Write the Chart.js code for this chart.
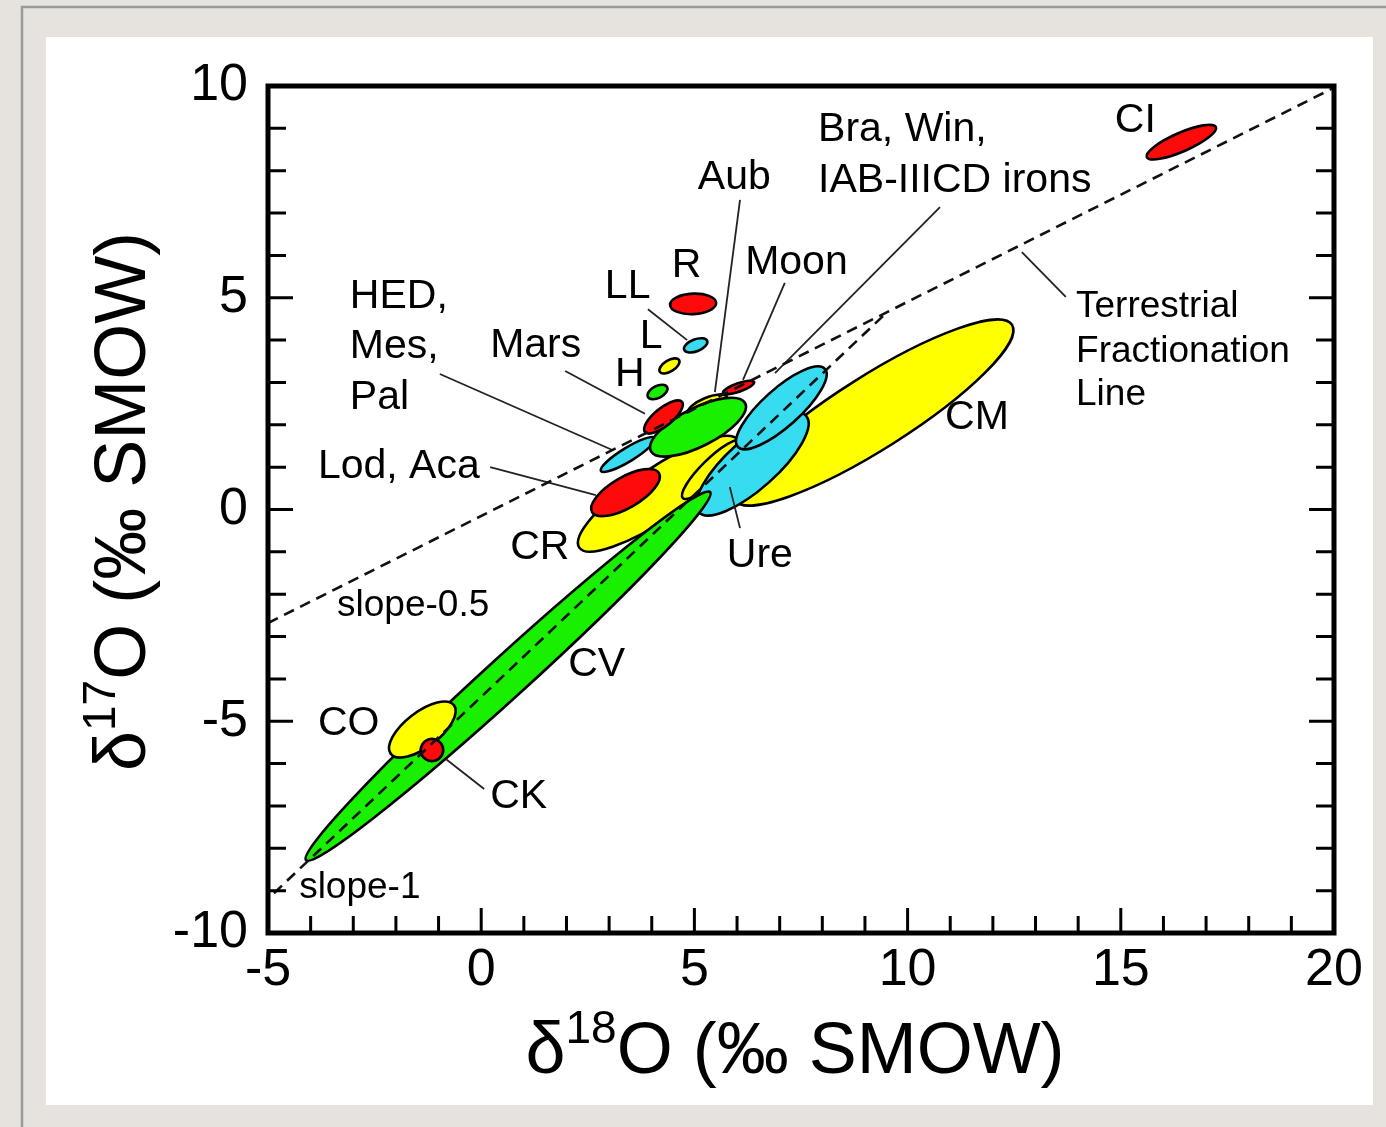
<!DOCTYPE html>
<html>
<head>
<meta charset="utf-8">
<title>Oxygen isotope groups</title>
<script src="https://cdn.jsdelivr.net/npm/chart.js@4.4.1/dist/chart.umd.min.js"></script>
<style>
  html, body { margin: 0; padding: 0; background: #e6e3de; }
  canvas { display: block; }
</style>
</head>
<body>
<canvas id="oxygenChart" width="1386" height="1127"></canvas>
<script>
const FONT = "'Liberation Sans', Arial, Helvetica, sans-serif";

// axis ticks
const xTicks = [-5, 0, 5, 10, 15, 20];
const yTicks = [-10, -5, 0, 5, 10];
const minorStep = 1;

// reference lines (d18O, d17O)
const tflLine = [{ x: -5, y: -2.68 }, { x: 19.98, y: 9.95 }];
const ccamLine = [{ x: -4.86, y: -9.06 }, { x: 9.52, y: 4.66 }];

// meteorite group fields: [d18O start, d17O start, d18O end, d17O end, half width]
// listed back to front
const regionNames = ['CM', 'CR', 'CR', 'Ure', 'Ure', 'CV', 'Lod, Aca', 'HED', 'Aub', 'Bra, Win',
  'Mars', 'Moon', 'H', 'L', 'LL', 'R', 'CO', 'CK', 'CI'];
const regionAxes = [
  [5.95, 0.22, 12.45, 4.36, 0.86],
  [2.30, -0.90, 6.02, 1.64, 0.60],
  [4.73, 0.27, 6.09, 1.62, 0.24],
  [5.10, -0.06, 7.62, 2.21, 0.58],
  [6.02, 1.48, 8.06, 3.32, 0.44],
  [-4.11, -8.28, 5.37, 0.41, 0.48],
  [2.60, -0.06, 4.17, 0.86, 0.36],
  [2.81, 0.91, 4.08, 1.69, 0.16],
  [4.85, 2.28, 5.76, 2.66, 0.17],
  [3.98, 1.38, 6.19, 2.51, 0.45],
  [3.84, 1.83, 4.71, 2.54, 0.21],
  [5.67, 2.75, 6.40, 3.01, 0.10],
  [3.91, 2.66, 4.36, 2.89, 0.14],
  [4.19, 3.25, 4.64, 3.53, 0.13],
  [4.76, 3.77, 5.30, 3.98, 0.14],
  [4.43, 4.83, 5.51, 4.88, 0.24],
  [-2.12, -5.77, -0.64, -4.62, 0.41],
  [-1.41, -5.75, -0.90, -5.61, 0.26],
  [15.61, 8.32, 17.23, 9.03, 0.22]
];
const regionFill = ['yellow', 'yellow', 'yellow', 'cyan', 'cyan', 'green', 'red', 'cyan', 'yellow', 'green',
  'red', 'red', 'green', 'yellow', 'cyan', 'red', 'yellow', 'red', 'red'];

// leader lines from labels to fields: [x1, y1, x2, y2]
const leaderLines = [
  [6.07, 7.31, 5.48, 2.77],
  [7.12, 5.35, 6.14, 3.06],
  [10.76, 7.14, 6.89, 3.22],
  [1.97, 3.27, 3.84, 2.26],
  [-0.97, 3.20, 3.09, 1.40],
  [0.21, 1.00, 2.69, 0.34],
  [3.91, 4.73, 4.83, 4.00],
  [6.07, -0.44, 5.83, 0.53],
  [0.07, -6.60, -0.83, -5.89],
  [13.71, 5.02, 12.68, 6.08]
];

// text labels: left edge, vertical middle
const labelTexts = ['Bra, Win,', 'IAB-IIICD irons', 'CI', 'Aub', 'Moon', 'R', 'LL', 'L', 'H',
  'HED,', 'Mes,', 'Pal', 'Mars', 'Lod, Aca', 'CR', 'Ure', 'CM', 'CV', 'CO', 'CK'];
const labelAt = [
  [7.90, 8.96], [7.90, 7.76], [14.86, 9.17], [5.08, 7.83], [6.19, 5.82], [4.47, 5.75], [2.90, 5.25],
  [3.72, 4.07], [3.14, 3.18], [-3.08, 5.02], [-3.08, 3.84], [-3.08, 2.63], [0.21, 3.86], [-3.83, 1.00],
  [0.68, -0.91], [5.76, -1.10], [10.88, 2.16], [2.04, -3.67], [-3.83, -5.06], [0.21, -6.79]
];
const smallTexts = ['Terrestrial', 'Fractionation', 'Line', 'slope-0.5', 'slope-1'];
const smallAt = [[13.95, 4.78], [13.95, 3.72], [13.95, 2.70], [-3.38, -2.28], [-4.27, -8.94]];

const palette = { red: '#ff0a0a', yellow: '#ffff00', green: '#19f000', cyan: '#38dcf0' };

const backgroundPlugin = {
    id: 'slideBackground',
    beforeDraw(chart) {
        const ctx = chart.ctx;
        ctx.save();
        ctx.fillStyle = '#e6e3de';
        ctx.fillRect(0, 0, chart.width, chart.height);
        ctx.strokeStyle = '#9a9a9a';
        ctx.lineWidth = 2.5;
        ctx.strokeRect(22, 7, chart.width + 20, chart.height + 20);
        ctx.fillStyle = '#ffffff';
        ctx.fillRect(46, 37, 1327, 1068);
        ctx.restore();
    }
};

const regionsPlugin = {
    id: 'groupFields',
    beforeDatasetsDraw(chart) {
        const { ctx, scales: { x, y } } = chart;
        const unit = x.getPixelForValue(1) - x.getPixelForValue(0);
        ctx.save();
        ctx.strokeStyle = '#000';
        ctx.lineWidth = 2.6;
        regionAxes.forEach((r, i) => {
            const x1 = x.getPixelForValue(r[0]), y1 = y.getPixelForValue(r[1]);
            const x2 = x.getPixelForValue(r[2]), y2 = y.getPixelForValue(r[3]);
            const half = Math.hypot(x2 - x1, y2 - y1) / 2;
            ctx.beginPath();
            ctx.ellipse((x1 + x2) / 2, (y1 + y2) / 2, half, r[4] * unit, Math.atan2(y2 - y1, x2 - x1), 0, Math.PI * 2);
            ctx.fillStyle = palette[regionFill[i]];
            ctx.fill();
            ctx.stroke();
        });
        ctx.restore();
    }
};

function drawParts(ctx, parts, cx, baseY) {
    let total = 0;
    parts.forEach(p => {
        ctx.font = p[1] + 'px ' + FONT;
        total += ctx.measureText(p[0]).width;
    });
    let px = cx - total / 2;
    parts.forEach(p => {
        ctx.font = p[1] + 'px ' + FONT;
        ctx.fillText(p[0], px, baseY + p[2]);
        px += ctx.measureText(p[0]).width;
    });
}

const framePlugin = {
    id: 'frameAndText',
    afterDatasetsDraw(chart) {
        const { ctx, chartArea: a, scales: { x, y } } = chart;
        ctx.save();
        ctx.strokeStyle = '#000';
        ctx.lineWidth = 3;
        ctx.beginPath();
        for (let v = xTicks[0] + minorStep; v < xTicks[xTicks.length - 1]; v += minorStep) {
            const px = x.getPixelForValue(v);
            const len = xTicks.includes(v) ? 25 : 17;
            ctx.moveTo(px, a.bottom);
            ctx.lineTo(px, a.bottom - len);
        }
        for (let v = yTicks[0] + minorStep; v < yTicks[yTicks.length - 1]; v += minorStep) {
            const py = y.getPixelForValue(v);
            const len = yTicks.includes(v) ? 25 : 18;
            ctx.moveTo(a.left, py);
            ctx.lineTo(a.left + len, py);
            ctx.moveTo(a.right, py);
            ctx.lineTo(a.right - len, py);
        }
        ctx.stroke();
        ctx.lineWidth = 5;
        ctx.strokeRect(a.left, a.top, a.right - a.left, a.bottom - a.top);

        ctx.fillStyle = '#000';
        ctx.textAlign = 'left';
        ctx.textBaseline = 'middle';
        ctx.font = '41px ' + FONT;
        labelTexts.forEach((t, i) => {
            ctx.fillText(t, x.getPixelForValue(labelAt[i][0]), y.getPixelForValue(labelAt[i][1]));
        });
        ctx.font = '37px ' + FONT;
        smallTexts.forEach((t, i) => {
            ctx.fillText(t, x.getPixelForValue(smallAt[i][0]), y.getPixelForValue(smallAt[i][1]));
        });

        // axis titles with superscripts
        ctx.textBaseline = 'alphabetic';
        drawParts(ctx, [['δ', 72, 0], ['18', 46, -30], ['O (‰ SMOW)', 72, 0]], (a.left + a.right) / 2 - 6, 1073);
        ctx.translate(145, (a.top + a.bottom) / 2 - 8);
        ctx.rotate(-Math.PI / 2);
        drawParts(ctx, [['δ', 72, 0], ['17', 46, -30], ['O (‰ SMOW)', 72, 0]], 0, 0);
        ctx.restore();
    }
};

const lineSets = [
    { data: tflLine, borderColor: '#111', borderWidth: 2.6, borderDash: [11, 7] },
    { data: ccamLine, borderColor: '#111', borderWidth: 2.6, borderDash: [11, 7] }
].concat(leaderLines.map(l => ({
    data: [{ x: l[0], y: l[1] }, { x: l[2], y: l[3] }],
    borderColor: '#222',
    borderWidth: 1.8
})));

const ctx = document.getElementById('oxygenChart').getContext('2d');
new Chart(ctx, {
    type: 'scatter',
    data: {
        datasets: lineSets.map(s => Object.assign({ showLine: true, pointRadius: 0, fill: false }, s))
    },
    options: {
        responsive: false,
        animation: false,
        devicePixelRatio: 1,
        events: [],
        layout: { padding: { top: 86, right: 52, left: 0, bottom: 0 } },
        plugins: { legend: { display: false }, tooltip: { enabled: false } },
        scales: {
            x: {
                type: 'linear', min: xTicks[0], max: xTicks[xTicks.length - 1],
                grid: { display: false, drawTicks: false },
                border: { display: false },
                afterBuildTicks: s => { s.ticks = xTicks.map(v => ({ value: v })); },
                afterFit: s => { s.height = 194; },
                ticks: { color: '#000', padding: 6, maxRotation: 0, font: { family: FONT, size: 52 } }
            },
            y: {
                type: 'linear', min: yTicks[0], max: yTicks[yTicks.length - 1],
                grid: { display: false, drawTicks: false },
                border: { display: false },
                afterBuildTicks: s => { s.ticks = yTicks.map(v => ({ value: v })); },
                afterFit: s => { s.width = 268; },
                ticks: { color: '#000', padding: 20, font: { family: FONT, size: 52 } }
            }
        }
    },
    plugins: [backgroundPlugin, regionsPlugin, framePlugin]
});
</script>
</body>
</html>
